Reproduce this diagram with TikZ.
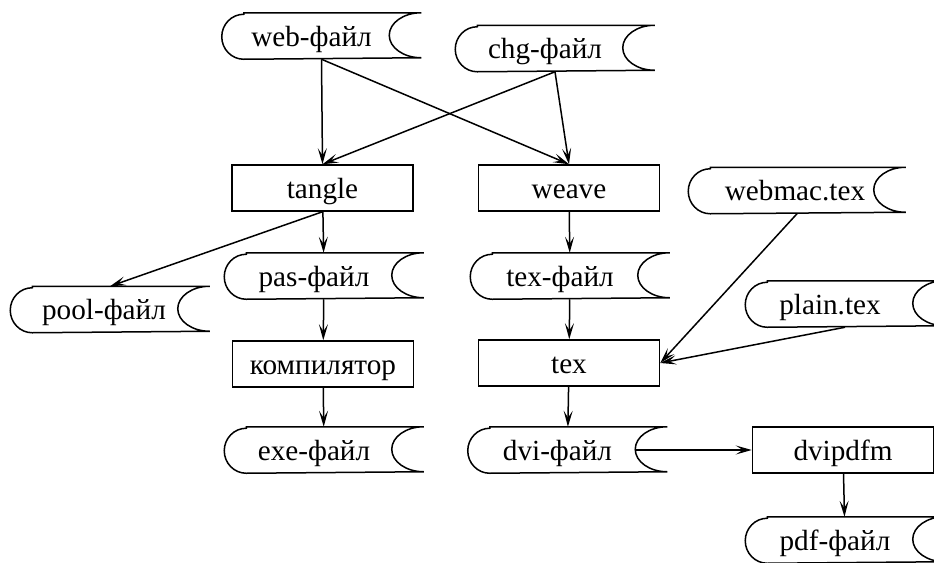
\documentclass[tikz,border=0pt]{standalone}
\usepackage{fontspec}
\setmainfont{Liberation Serif}
\usetikzlibrary{arrows.meta}

\tikzset{
  box/.style={draw, minimum width=90.5pt, minimum height=23pt, inner sep=0pt},
  file/.style={minimum width=99pt, minimum height=22.5pt, inner sep=0pt,
    execute at end node={\hspace*{#1}}},
  file/.default=10pt
}

\begin{document}
\begin{tikzpicture}[x=0.5pt, y=-0.5pt, ->, >={Stealth[length=8pt,width=4.5pt,inset=3.5pt]},
    line width=0.75pt, every node/.style={font=\fontsize{14.6}{16}\selectfont,
    text height=11pt, text depth=1pt}]
  \useasboundingbox (0,0) rectangle (934,563);

  % files
  \node[file] at (321.5, 36) (web) {web-файл};
  \node[file] at (555, 48.5) (chg) {chg-файл};
  \node[file=2pt, minimum width=108pt] at (797, 190.5) (webmac) {webmac.tex};
  \node[file=6pt] at (110, 309.5) (pool) {pool-файл};
  \node[file] at (324, 276) (pas) {pas-файл};
  \node[file] at (570, 276) (texf) {tex-файл};
  \node[file=15pt] at (845, 304) (plain) {plain.tex};
  \node[file] at (324, 450) (exe) {exe-файл};
  \node[file] at (567.5, 450) (dvi) {dvi-файл};
  \node[file] at (845, 540) (pdf) {pdf-файл};

  % programs
  \node[box] at (322.5, 188) (tangle) {tangle};
  \node[box] at (569, 188) (weave) {weave};
  \node[box] at (323, 364) (comp) {компилятор};
  \node[box] at (569, 363) (tex) {tex};
  \node[box] at (843, 450) (dvipdfm) {dvipdfm};

  % file outlines
  \foreach \f in {web,chg,webmac,pool,pas,texf,plain,exe,dvi,pdf}
    \draw[-] ([xshift=11pt]\f.north west) -- (\f.north east)
      arc[start angle=90, end angle=270, x radius=16pt, y radius=11.25pt]
      -- ([xshift=11pt]\f.south west)
      arc[start angle=270, end angle=90, x radius=11pt, y radius=11.25pt] -- cycle;

  \draw (web.south) -- (tangle.north);
  \draw (web.south) -- (weave.north);
  \draw (chg.south) -- (tangle.north);
  \draw (chg.south) -- (weave.north);
  \draw (tangle.south) -- (pool.north);
  \draw (tangle) -- (pas);
  \draw (pas) -- (comp);
  \draw (comp) -- (exe);
  \draw (weave) -- (texf);
  \draw (texf) -- (tex);
  \draw (tex) -- (dvi);
  \draw (webmac.south) -- (tex.east);
  \draw (plain.south) -- (tex.east);
  \draw ([xshift=-16pt]dvi.east) -- (dvipdfm.west);
  \draw (dvipdfm) -- (pdf);
\end{tikzpicture}
\end{document}
